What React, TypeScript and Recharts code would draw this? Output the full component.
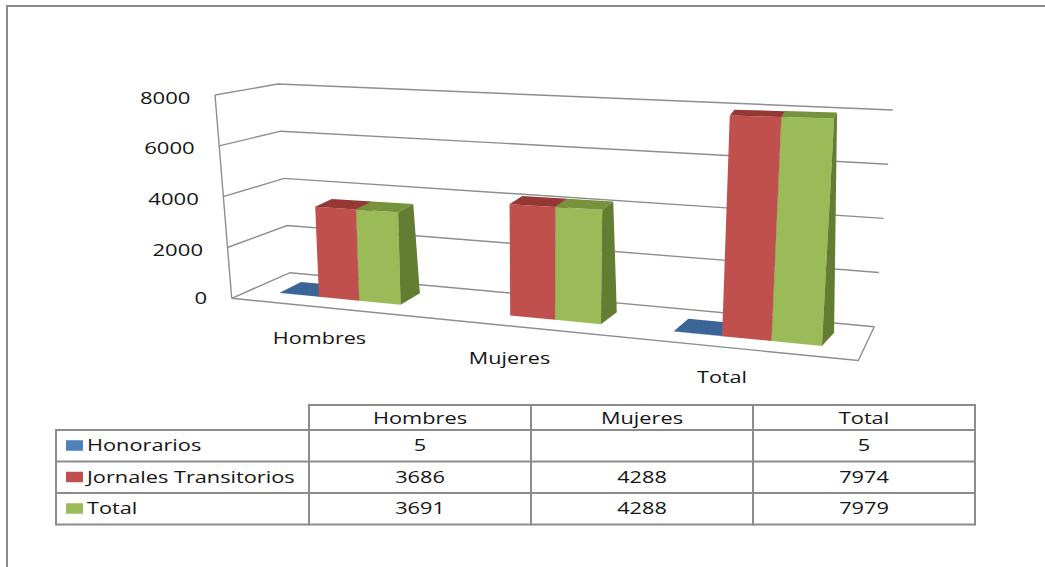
import React from 'react';
import { BarChart, Bar, XAxis, YAxis, CartesianGrid } from 'recharts';

// ---------- data ----------
const categories = ['Hombres', 'Mujeres', 'Total'];
const honorarios: (number | null)[] = [5, null, 5];
const jornales: (number | null)[] = [3686, 4288, 7974];
const totales: (number | null)[] = [3691, 4288, 7979];
const seriesLabels = ['Honorarios', 'Jornales Transitorios', 'Total'];
const yTicks = [0, 2000, 4000, 6000, 8000];

const data = categories.map((name, i) => ({
  name,
  honorarios: honorarios[i],
  jornales: jornales[i],
  total: totales[i],
}));

// ---------- styling / projection ----------
const FONT = '"Open Sans", "DejaVu Sans", sans-serif';
const GRID = '#8e8e8e';
const TEXT = '#141414';
const PLOT = { left: 300, right: 900, top: 100, bottom: 300 };
const Y_MAX = 8000;
const BAND = (PLOT.right - PLOT.left) / categories.length;
const FIRST = PLOT.left + BAND / 2;

const sxOf = (px: number) => {
  const t = (px - FIRST) / BAND;
  return 339 + 183.15 * t + 10.35 * t * t;
};
const baseOf = (sx: number) => 296.7 + 0.0977 * (sx - 318);
const scaleOf = (sx: number) => (24.4 + 0.00812 * (sx - 318)) / 1000;
const leanOf = (sx: number, h: number) => (sx - 540) * 0.00019 * h;
// depth vector of a bar corner, depending on screen x and value fraction (perspective)
const depthOf = (sx: number, f: number) => [
  21 - 0.017 * (sx - 300) - 9 * f,
  -(11 + 0.004 * (sx - 300)) + 7 * f,
];
const valueFromY = (y: number) => ((PLOT.bottom - y) / (PLOT.bottom - PLOT.top)) * Y_MAX;

const FL = (f: number) => [231.7 - 16.7 * f, 298.3 - 203.3 * f];
const BL = (f: number) => [290 - 12 * f, 272.7 - 188.7 * f];
const BR = (f: number) => [874.3 + 18.4 * f, 326.7 - 216.7 * f];
const FR0 = [858.3, 360.5];

const pt = (p: number[]) => `${p[0].toFixed(2)},${p[1].toFixed(2)}`;

const StretchText = ({ x, y, anchor, size, sx, children }: any) => (
  <text
    transform={`translate(${x},${y}) scale(${sx},1)`}
    textAnchor={anchor}
    fontSize={size}
    fontFamily={FONT}
    fill={TEXT}
  >
    {children}
  </text>
);

const make3DBar = (key: string, front: string, top: string, side: string) => (props: any) => {
  const { x, y, width, payload } = props;
  if (!payload || payload[key] == null) return <g />;
  const v = valueFromY(y);
  const f = v / Y_MAX;
  const x1 = sxOf(x);
  const x2 = sxOf(x + width);
  const b1 = baseOf(x1);
  const b2 = baseOf(x2);
  const h1 = v * scaleOf(x1);
  const h2 = v * scaleOf(x2);
  const FBL = [x1, b1];
  const FBR = [x2, b2];
  const FTL = [x1 + leanOf(x1, h1), b1 - h1];
  const FTR = [x2 + leanOf(x2, h2), b2 - h2];
  const back = (p: number[], ff: number) => {
    const d = depthOf(p[0], ff);
    return [p[0] + d[0], p[1] + d[1]];
  };
  return (
    <g>
      <polygon points={[FBL, FBR, FTR, FTL].map(pt).join(' ')} fill={front} />
      <polygon points={[FBR, FTR, back(FTR, f), back(FBR, 0)].map(pt).join(' ')} fill={side} />
      <polygon points={[FTL, FTR, back(FTR, f), back(FTL, f)].map(pt).join(' ')} fill={top} />
    </g>
  );
};

const blueShape = make3DBar('honorarios', '#4F81BD', '#3B6597', '#34598A');
const redShape = make3DBar('jornales', '#C0504D', '#953735', '#8A3330');
const greenShape = make3DBar('total', '#9BBB59', '#76923C', '#637D32');

const renderGridLine = (props: any) => {
  const { y1, index } = props;
  const f = (PLOT.bottom - y1) / (PLOT.bottom - PLOT.top);
  const fl = FL(f);
  const bl = BL(f);
  const br = BR(f);
  const st = { stroke: GRID, strokeWidth: 1.4, fill: 'none' };
  const isFloor = Math.abs(f) < 1e-6;
  return (
    <g key={`grid-${index}`}>
      <polyline points={`${pt(fl)} ${pt(bl)} ${pt(br)}`} {...st} />
      {isFloor && <polyline points={`${pt(br)} ${pt(FR0)} ${pt(fl)}`} {...st} />}
      {isFloor && <line x1={FL(0)[0]} y1={FL(0)[1]} x2={FL(1)[0]} y2={FL(1)[1]} {...st} />}
    </g>
  );
};

const YTick = (props: any) => {
  const { y, payload } = props;
  const f = (PLOT.bottom - y) / (PLOT.bottom - PLOT.top);
  const p = FL(f);
  const off = f < 1e-6 ? 5.5 : 8.5;
  return (
    <StretchText x={p[0] - 24.5} y={p[1] + off} anchor="end" size={17} sx={1.3}>
      {payload.value}
    </StretchText>
  );
};

const XTick = (props: any) => {
  const { x, payload } = props;
  const t = (x - FIRST) / BAND;
  const lx = 319.5 + 178.75 * t + 11.25 * t * t;
  const ly = 344 + 19.5 * t;
  return (
    <StretchText x={lx} y={ly} anchor="middle" size={17} sx={1.27}>
      {payload.value}
    </StretchText>
  );
};

// ---------- data table ----------
const colX = [309, 531, 753, 975];
const rowY = [405, 430, 461.5, 493, 524.5];
const TABLE_LEFT = 56;
const keyColors = ['#4F81BD', '#C0504D', '#9BBB59'];
const tableRows = [honorarios, jornales, totales];

const DataTable = () => {
  const ln = { stroke: '#8c8c8c', strokeWidth: 2 };
  return (
    <svg width={1045} height={567} style={{ position: 'absolute', left: 0, top: 0 }}>
      <line x1={colX[0]} y1={rowY[0]} x2={colX[3]} y2={rowY[0]} {...ln} />
      {rowY.slice(1).map((y, i) => (
        <line key={`r${i}`} x1={TABLE_LEFT} y1={y} x2={colX[3]} y2={y} {...ln} />
      ))}
      <line x1={TABLE_LEFT} y1={rowY[1] - 1} x2={TABLE_LEFT} y2={rowY[4] + 1} {...ln} />
      {colX.map((x, i) => (
        <line key={`c${i}`} x1={x} y1={rowY[0] - 1} x2={x} y2={rowY[4] + 1} {...ln} />
      ))}
      {categories.map((c, i) => (
        <StretchText key={`h${i}`} x={(colX[i] + colX[i + 1]) / 2} y={424} anchor="middle" size={16} sx={1.36}>
          {c}
        </StretchText>
      ))}
      {tableRows.map((row, r) => {
        const cy = (rowY[r + 1] + rowY[r + 2]) / 2;
        return (
          <g key={`row${r}`}>
            <rect x={66} y={cy - 5.5} width={17} height={10.5} fill={keyColors[r]} />
            <StretchText x={87} y={cy + 5.5} anchor="start" size={16} sx={1.36}>
              {seriesLabels[r]}
            </StretchText>
            {row.map((v, i) => (
              <StretchText key={`v${i}`} x={(colX[i] + colX[i + 1]) / 2} y={cy + 5.5} anchor="middle" size={16} sx={1.36}>
                {v == null ? '' : String(v)}
              </StretchText>
            ))}
          </g>
        );
      })}
    </svg>
  );
};

export default function App() {
  return (
    <div
      style={{
        position: 'fixed',
        left: 0,
        top: 0,
        width: 1045,
        height: 567,
        overflow: 'hidden',
        background: '#ffffff',
      }}
    >
      <div
        style={{
          position: 'absolute',
          left: 6,
          top: 5,
          width: 1200,
          height: 800,
          borderLeft: '2px solid #8a8a8a',
          borderTop: '2px solid #8a8a8a',
        }}
      />
      <div style={{ position: 'absolute', left: 0, top: 0 }}>
        <BarChart
          width={1045}
          height={567}
          data={data}
          barGap={0}
          margin={{ top: 100, right: 145, bottom: 237, left: 240 }}
        >
          <CartesianGrid vertical={false} horizontal={renderGridLine} fill="none" />
          <XAxis dataKey="name" height={30} axisLine={false} tickLine={false} tick={<XTick />} interval={0} />
          <YAxis
            width={60}
            domain={[0, Y_MAX]}
            ticks={yTicks}
            axisLine={false}
            tickLine={false}
            tick={<YTick />}
            interval={0}
          />
          <Bar dataKey="honorarios" barSize={44} shape={blueShape} isAnimationActive={false} />
          <Bar dataKey="jornales" barSize={44} shape={redShape} isAnimationActive={false} />
          <Bar dataKey="total" barSize={44} shape={greenShape} isAnimationActive={false} />
        </BarChart>
      </div>
      <DataTable />
    </div>
  );
}
